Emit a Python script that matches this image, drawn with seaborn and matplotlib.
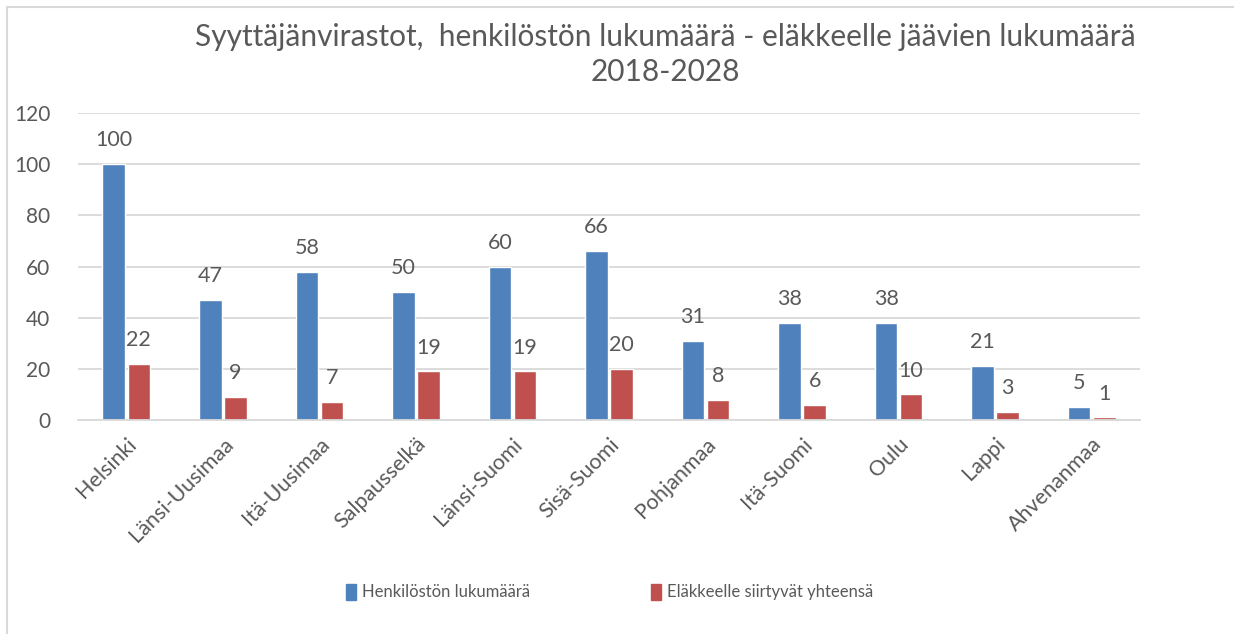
import pandas as pd
import numpy as np
import matplotlib.pyplot as plt
import seaborn as sns
from matplotlib.patches import Patch
from matplotlib.lines import Line2D

virastot = ["Helsinki", "Länsi-Uusimaa", "Itä-Uusimaa", "Salpausselkä", "Länsi-Suomi",
            "Sisä-Suomi", "Pohjanmaa", "Itä-Suomi", "Oulu", "Lappi", "Ahvenanmaa"]
henkilosto = [100, 47, 58, 50, 60, 66, 31, 38, 38, 21, 5]
elakkeelle = [22, 9, 7, 19, 19, 20, 8, 6, 10, 3, 1]
sarjat = ["Henkilöstön lukumäärä", "Eläkkeelle siirtyvät yhteensä"]
varit = ["#4F81BD", "#C0504D"]

df = pd.DataFrame({
    "virasto": virastot * 2,
    "sarja": [sarjat[0]] * len(virastot) + [sarjat[1]] * len(virastot),
    "arvo": henkilosto + elakkeelle,
})

sns.set_style("white")
plt.rcParams['font.family'] = ['Lato', 'DejaVu Sans']
harmaa = "#595959"

fig = plt.figure(figsize=(12.34, 6.34), dpi=100)
ax = fig.add_axes([0.0632, 0.3375, 0.8606, 0.4843])

sns.barplot(data=df, x="virasto", y="arvo", hue="sarja", palette=varit,
            width=0.52, gap=0.1, ax=ax, legend=False, saturation=1)

for c in ax.containers:
    ax.bar_label(c, padding=10, fontsize=15.5, color=harmaa)

ax.set_ylim(0, 120)
ax.set_yticks(range(0, 121, 20))
ax.set_xlim(-0.5, len(virastot) - 0.5)
ax.yaxis.grid(True, color="#D9D9D9", lw=1.3)
ax.set_axisbelow(True)
for s in ["top", "right", "left"]:
    ax.spines[s].set_visible(False)
ax.spines["bottom"].set_color("#D9D9D9")
ax.spines["bottom"].set_linewidth(1.3)
ax.set_xlabel("")
ax.set_ylabel("")
ax.tick_params(axis="y", labelsize=15, colors=harmaa, pad=20, length=0)
ax.tick_params(axis="x", labelsize=15.5, colors=harmaa, length=0, pad=10)
plt.setp(ax.get_xticklabels(), rotation=45, ha="right", rotation_mode="anchor")

fig.text(0.539, 0.942, "Syyttäjänvirastot,  henkilöstön lukumäärä - eläkkeelle jäävien lukumäärä",
         ha="center", va="center", fontsize=21.5, color=harmaa)
fig.text(0.539, 0.886, "2018-2028", ha="center", va="center", fontsize=21.5, color=harmaa)

kahvat = [Patch(facecolor=v, edgecolor=v) for v in varit]
fig.legend(kahvat, sarjat, loc="center", bbox_to_anchor=(0.494, 0.066), ncol=2,
           frameon=False, fontsize=12, labelcolor=harmaa, columnspacing=7.2,
           handlelength=0.6, handleheight=1.1, handletextpad=0.4)

# reunaviiva kuvan ympärillä
fig.add_artist(Line2D([7 / 1234, 7 / 1234], [0, 1 - 7 / 634], transform=fig.transFigure,
                      color="#D9D9D9", lw=1.5))
fig.add_artist(Line2D([7 / 1234, 1], [1 - 7 / 634, 1 - 7 / 634], transform=fig.transFigure,
                      color="#D9D9D9", lw=1.5))

fig.savefig("out.png", dpi=100)
